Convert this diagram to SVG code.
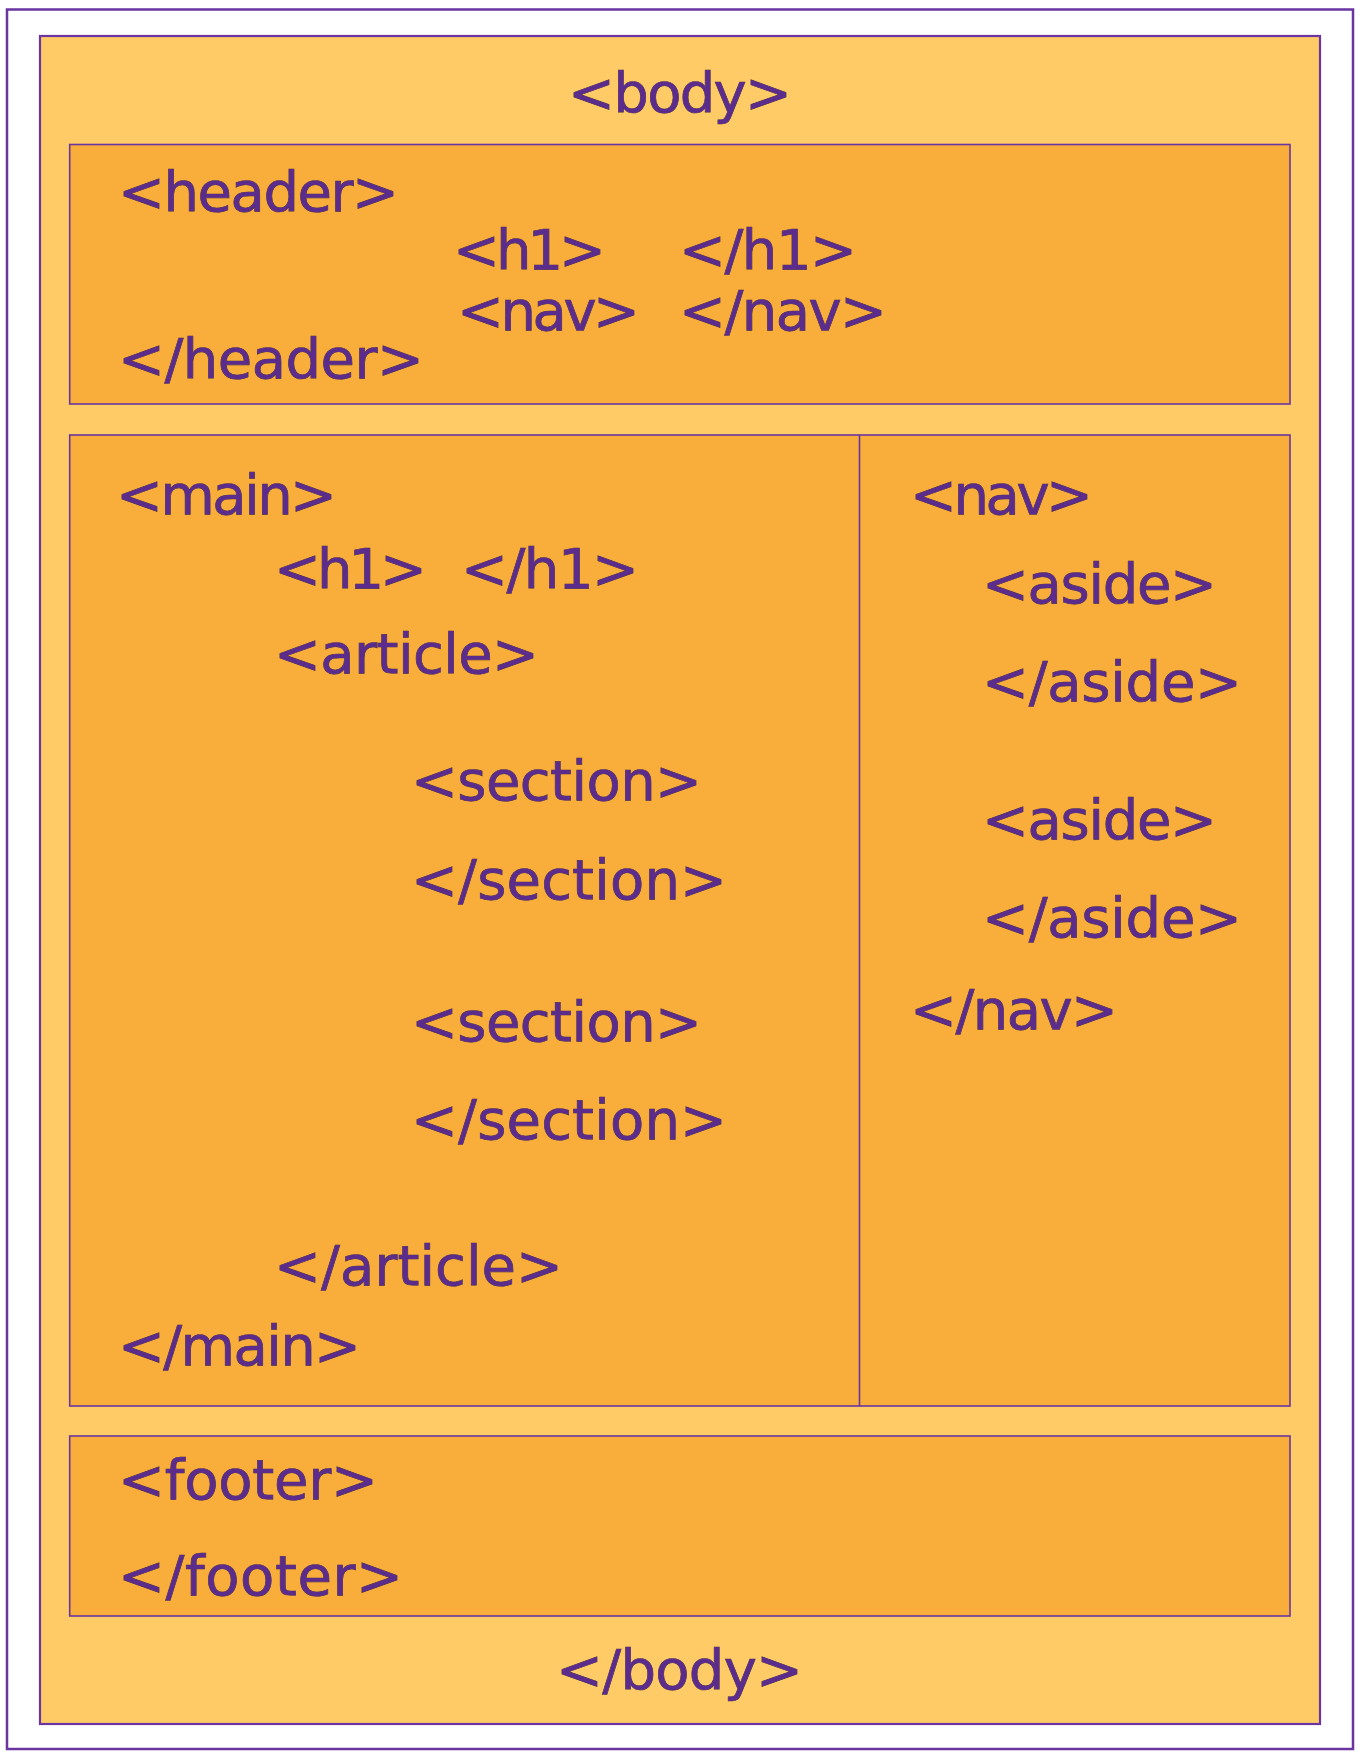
<svg xmlns="http://www.w3.org/2000/svg" width="1360" height="1760" viewBox="0 0 1360 1760">
<style>
.box{fill:#F9AE3B;stroke:#6A35A0;stroke-width:1.6}
.t{font-family:"DejaVu Sans","Noto Sans",sans-serif;font-size:56px;fill:#5B2C8C;stroke:#3B2A45;stroke-width:0.7;paint-order:stroke}
</style>
<rect x="7" y="9.5" width="1346" height="1739.5" fill="#FFFFFF" stroke="#6A35A0" stroke-width="2.5"/>
<g id="body">
<rect x="40" y="36" width="1280" height="1688" fill="#FFCB66" stroke="#6A35A0" stroke-width="2.2"/>
<text class="t" x="568" y="112" textLength="224">&lt;body&gt;</text>
<text class="t" x="556" y="1689" textLength="247">&lt;/body&gt;</text>
</g>
<g id="header">
<rect class="box" x="69.7" y="144.5" width="1220.3" height="259.5"/>
<text class="t" x="118" y="211" textLength="281">&lt;header&gt;</text>
<text class="t" x="118" y="378" textLength="306">&lt;/header&gt;</text>
<text class="t" x="453" y="269" textLength="153">&lt;h1&gt;</text>
<text class="t" x="679" y="269" textLength="178">&lt;/h1&gt;</text>
<text class="t" x="457" y="330" textLength="183">&lt;nav&gt;</text>
<text class="t" x="679" y="330" textLength="208">&lt;/nav&gt;</text>
</g>
<g id="main">
<rect class="box" x="69.7" y="435" width="1220.3" height="971"/>
<text class="t" x="116" y="514" textLength="221">&lt;main&gt;</text>
<text class="t" x="274" y="588" textLength="153">&lt;h1&gt;</text>
<text class="t" x="461" y="588" textLength="178">&lt;/h1&gt;</text>
<text class="t" x="274" y="673" textLength="265">&lt;article&gt;</text>
<text class="t" x="411" y="800" textLength="291">&lt;section&gt;</text>
<text class="t" x="411" y="899" textLength="316">&lt;/section&gt;</text>
<text class="t" x="411" y="1041" textLength="291">&lt;section&gt;</text>
<text class="t" x="411" y="1139" textLength="316">&lt;/section&gt;</text>
<text class="t" x="274" y="1285" textLength="289">&lt;/article&gt;</text>
<text class="t" x="118" y="1365" textLength="243">&lt;/main&gt;</text>
</g>
<g id="nav">
<line x1="859.5" y1="435" x2="859.5" y2="1406" stroke="#6A35A0" stroke-width="1.6"/>
<text class="t" x="910" y="514" textLength="183">&lt;nav&gt;</text>
<text class="t" x="982" y="603" textLength="235">&lt;aside&gt;</text>
<text class="t" x="982" y="701" textLength="260">&lt;/aside&gt;</text>
<text class="t" x="982" y="839" textLength="235">&lt;aside&gt;</text>
<text class="t" x="982" y="937" textLength="260">&lt;/aside&gt;</text>
<text class="t" x="910" y="1029" textLength="208">&lt;/nav&gt;</text>
</g>
<g id="footer">
<rect class="box" x="69.7" y="1436" width="1220.3" height="180"/>
<text class="t" x="118" y="1499" textLength="260">&lt;footer&gt;</text>
<text class="t" x="118" y="1595" textLength="285">&lt;/footer&gt;</text>
</g>
<g id="connectors"></g>
</svg>
